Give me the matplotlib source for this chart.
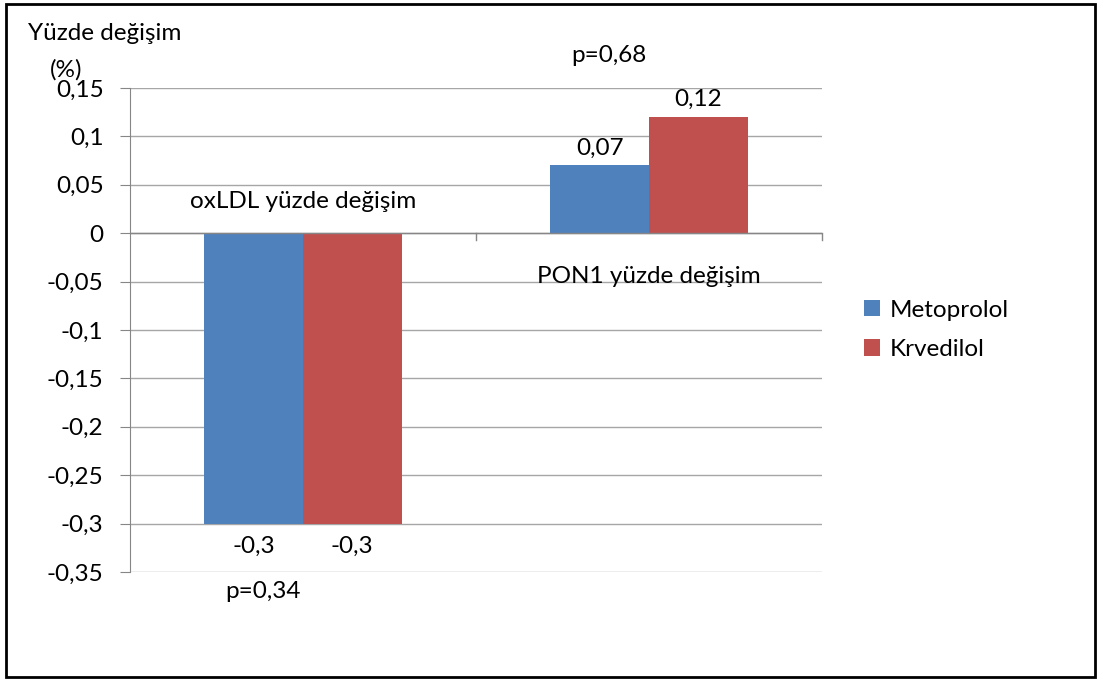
import numpy as np
import matplotlib.pyplot as plt
from matplotlib.patches import Rectangle

plt.rcParams['font.family'] = ['Lato', 'DejaVu Sans']

# Mean percent change per marker and drug
categories = ['oxLDL yüzde değişim', 'PON1 yüzde değişim']
metoprolol = [-0.3, 0.07]
krvedilol = [-0.3, 0.12]
p_values = ['p=0,34', 'p=0,68']
yticks = [0.15, 0.1, 0.05, 0, -0.05, -0.1, -0.15, -0.2, -0.25, -0.3, -0.35]

blue = '#4F81BD'
red = '#C0504D'
grid_col = '#A6A6A6'
fs = 17.5
fs_tick = 17.5

fig = plt.figure(figsize=(10.99, 6.8), dpi=100)
ax = fig.add_axes([130 / 1099, 1 - 572 / 680, 692 / 1099, 484 / 680])

x = np.arange(len(categories))
w = 0.285
ax.bar(x - w / 2, metoprolol, w, color=blue, label='Metoprolol', zorder=3)
ax.bar(x + w / 2, krvedilol, w, color=red, label='Krvedilol', zorder=3)

ax.set_xlim(-0.5, 1.5)
ax.set_ylim(-0.35, 0.15)
ax.set_yticks(yticks)
ax.set_yticklabels([f'{v:g}'.replace('.', ',') for v in yticks], fontsize=fs_tick)
ax.tick_params(axis='y', length=7, color='#868686', pad=12)
ax.set_xticks([])
ax.grid(axis='y', color=grid_col, linewidth=1, zorder=0)
for s in ['top', 'right', 'bottom']:
    ax.spines[s].set_visible(False)
ax.spines['left'].set_color('#868686')

# category axis at zero with boundary tick marks
ax.axhline(0, color='#868686', linewidth=1, zorder=4)
for b in [0.5, 1.5]:
    ax.plot([b, b], [0, -0.0075], color='#868686', linewidth=1, clip_on=False, zorder=4)

# value labels
for i in range(len(categories)):
    for val, dx in [(metoprolol[i], -w / 2), (krvedilol[i], w / 2)]:
        txt = f'{val:g}'.replace('.', ',')
        if val >= 0:
            ax.annotate(txt, (x[i] + dx, val), xytext=(0, 5), textcoords='offset points',
                        ha='center', va='bottom', fontsize=fs)
        else:
            ax.annotate(txt, (x[i] + dx, val), xytext=(0, -9), textcoords='offset points',
                        ha='center', va='top', fontsize=fs)

# category names and p values
ax.text(x[0], 0.033, categories[0], ha='center', va='center', fontsize=fs)
ax.text(x[1], -0.045, categories[1], ha='center', va='center', fontsize=fs)
ax.text(x[0] - 0.115, -0.3705, p_values[0], ha='center', va='center', fontsize=fs, clip_on=False)
ax.text(x[1] - 0.115, 0.184, p_values[1], ha='center', va='center', fontsize=fs, clip_on=False)

fig.text(28 / 1099, 1 - 33 / 680, 'Yüzde değişim', ha='left', va='center', fontsize=fs)
fig.text(50 / 1099, 1 - 70 / 680, '(%)', ha='left', va='center', fontsize=fs)

ax.legend(loc='center left', bbox_to_anchor=(842 / 1099, 1 - 330 / 680),
          bbox_transform=fig.transFigure, frameon=False, fontsize=fs,
          handlelength=0.65, handleheight=0.65, handletextpad=0.4, labelspacing=0.75)

fig.patches.append(Rectangle((6 / 1099, 3 / 680), 1089 / 1099, 673 / 680,
                             transform=fig.transFigure, fill=False,
                             edgecolor='black', linewidth=2))

fig.savefig('out.png', dpi=100)
